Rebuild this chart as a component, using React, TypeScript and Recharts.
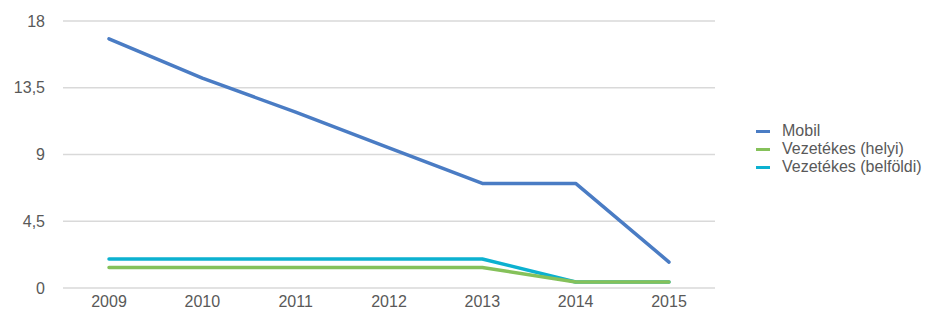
import React from "react";
import { LineChart, Line, XAxis, YAxis, CartesianGrid } from "recharts";

const years = ["2009", "2010", "2011", "2012", "2013", "2014", "2015"];
const mobil = [16.8, 14.15, 11.85, 9.45, 7.05, 7.05, 1.75];
const helyi = [1.38, 1.38, 1.38, 1.38, 1.38, 0.4, 0.4];
const belfoldi = [1.96, 1.96, 1.96, 1.96, 1.96, 0.4, 0.4];
const yTicks = [0, 4.5, 9, 13.5, 18];

const series = [
  { key: "mobil", name: "Mobil", color: "#4A7CC4" },
  { key: "helyi", name: "Vezetékes (helyi)", color: "#85C15A" },
  { key: "belfoldi", name: "Vezetékes (belföldi)", color: "#0CB1D0" },
];
const drawOrder = ["mobil", "belfoldi", "helyi"];

const data = years.map((y, i) => ({
  year: y,
  mobil: mobil[i],
  helyi: helyi[i],
  belfoldi: belfoldi[i],
}));

const FONT = "'Liberation Sans', Arial, sans-serif";

export default function App() {
  return (
    <div style={{ position: "absolute", left: 0, top: 0, width: 950, height: 316, background: "#fff" }}>
      <LineChart width={950} height={316} data={data} margin={{ top: 21, right: 235, bottom: 0, left: 0 }}>
        <CartesianGrid vertical={false} stroke="#D9D9D9" strokeWidth={1.5} />
        <XAxis
          dataKey="year"
          height={28}
          padding={{ left: 46, right: 46 }}
          axisLine={false}
          tickLine={false}
          tickSize={0}
          tickMargin={8}
          tick={{ fontSize: 16, fill: "#595959", fontFamily: FONT }}
        />
        <YAxis
          width={63}
          domain={[0, 18]}
          ticks={yTicks}
          axisLine={false}
          tickLine={false}
          tickSize={0}
          tickMargin={18}
          tickFormatter={(v: number) => String(v).replace(".", ",")}
          tick={{ fontSize: 16, fill: "#595959", fontFamily: FONT }}
        />
        {drawOrder.map((k) => {
          const s = series.find((x) => x.key === k)!;
          return (
            <Line
              key={s.key}
              type="linear"
              dataKey={s.key}
              name={s.name}
              stroke={s.color}
              strokeWidth={3.5}
              dot={false}
              activeDot={false}
              strokeLinejoin="round"
              strokeLinecap="round"
              isAnimationActive={false}
            />
          );
        })}
      </LineChart>
      <div style={{ position: "absolute", left: 756, top: 122, fontFamily: FONT, fontSize: 16, color: "#595959" }}>
        {series.map((s) => (
          <div key={s.key} style={{ display: "flex", alignItems: "center", height: 18, lineHeight: "18px", whiteSpace: "nowrap" }}>
            <div style={{ width: 14, height: 3, background: s.color, marginRight: 12 }} />
            <span>{s.name}</span>
          </div>
        ))}
      </div>
    </div>
  );
}
